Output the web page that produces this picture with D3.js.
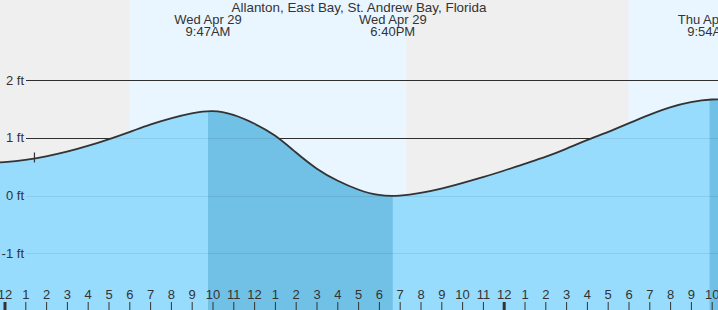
<!DOCTYPE html>
<html>
<head>
<meta charset="utf-8">
<script src="https://cdn.jsdelivr.net/npm/d3@7"></script>
<style>
  body { margin: 0; background: #fff; }
  svg { display: block; font-family: "Liberation Sans", Arial, sans-serif; }
</style>
</head>
<body>
<svg id="tide" width="718" height="310"></svg>
<script>
// hours since midnight Wed Apr 29, height in ft
const hours = [-1, 0, 1, 2, 3, 4, 5, 6, 7, 8, 9, 10, 11, 12, 13, 14, 15, 16, 17, 18,
  19, 20, 21, 22, 23, 24, 25, 26, 27, 28, 29, 30, 31, 32, 33, 34, 35];
const heights = [0.55, 0.58, 0.62, 0.68, 0.76, 0.86, 0.975, 1.10, 1.23, 1.34, 1.425, 1.465, 1.40, 1.25, 1.04,
  0.75, 0.47, 0.26, 0.105, 0.01, 0.0, 0.045, 0.12, 0.215, 0.32, 0.43, 0.55, 0.67, 0.81, 0.96, 1.10, 1.25,
  1.40, 1.53, 1.62, 1.665, 1.66];

// high / low tide labels
const extremeHours = [9.783, 18.667, 33.9];
const extremeDays = ["Wed Apr 29", "Wed Apr 29", "Thu Apr 30"];
const extremeTimes = ["9:47AM", "6:40PM", "9:54AM"];

// daylight spans (sunrise, sunset)
const dayStarts = [6.0, 30.0];
const dayEnds = [19.3, 40];

const yTicks = [-1, 0, 1, 2];
const hourTicks = d3.range(0, 35);
const nowHour = 1.44;

function createTideChart() {
  const svg = d3.select("#tide");
  const width = +svg.attr("width");
  const height = +svg.attr("height");

  const x = d3.scaleLinear().domain([0, 24]).range([4.5, 503.7]);
  const y = d3.scaleLinear().domain([-1, 2]).range([253.2, 80.2]);

  const data = hours.map((h, i) => ({ h: h, v: heights[i] }));

  // night background
  svg.append("rect")
    .attr("width", width)
    .attr("height", height)
    .attr("fill", "#efefef");

  // daylight
  svg.selectAll(".day")
    .data(dayStarts)
    .enter()
    .append("rect")
    .attr("class", "day")
    .attr("x", (d) => x(d))
    .attr("y", 0)
    .attr("width", (d, i) => x(dayEnds[i]) - x(d))
    .attr("height", height)
    .attr("fill", "#eaf6ff");

  // gridlines behind the water
  const grid = svg.append("g");
  grid.selectAll("line")
    .data(yTicks)
    .enter()
    .append("line")
    .attr("x1", 26)
    .attr("x2", width)
    .attr("y1", (d) => Math.round(y(d)) + 0.5)
    .attr("y2", (d) => Math.round(y(d)) + 0.5)
    .attr("stroke", "#333")
    .attr("stroke-width", 1);

  const area = d3.area()
    .x((d) => x(d.h))
    .y0(height)
    .y1((d) => y(d.v))
    .curve(d3.curveNatural);

  const line = d3.line()
    .x((d) => x(d.h))
    .y((d) => y(d.v))
    .curve(d3.curveNatural);

  svg.append("path")
    .datum(data)
    .attr("d", area)
    .attr("fill", "#97dcfd");

  // falling tide shaded darker
  const clip = svg.append("clipPath").attr("id", "falling");
  clip.append("rect")
    .attr("x", x(extremeHours[0]))
    .attr("y", 0)
    .attr("width", x(extremeHours[1]) - x(extremeHours[0]))
    .attr("height", height);
  clip.append("rect")
    .attr("x", x(extremeHours[2]))
    .attr("y", 0)
    .attr("width", width)
    .attr("height", height);

  svg.append("path")
    .datum(data)
    .attr("d", area)
    .attr("clip-path", "url(#falling)")
    .attr("fill", "#71c1e6");

  // faint gridlines inside the water
  svg.append("g")
    .selectAll("line")
    .data(yTicks)
    .enter()
    .append("line")
    .attr("x1", 26)
    .attr("x2", width)
    .attr("y1", (d) => Math.round(y(d)) + 0.5)
    .attr("y2", (d) => Math.round(y(d)) + 0.5)
    .attr("stroke", "#000")
    .attr("stroke-opacity", 0.08);

  svg.append("path")
    .datum(data)
    .attr("d", line)
    .attr("fill", "none")
    .attr("stroke", "#333")
    .attr("stroke-width", 1.8);

  // current time marker
  const nowY = y(0.66);
  svg.append("line")
    .attr("x1", x(nowHour))
    .attr("x2", x(nowHour))
    .attr("y1", nowY - 5)
    .attr("y2", nowY + 5)
    .attr("stroke", "#333")
    .attr("stroke-width", 1.2);

  // y labels
  svg.append("g")
    .selectAll("text")
    .data(yTicks)
    .enter()
    .append("text")
    .attr("x", 24)
    .attr("y", (d) => y(d) + 4.5)
    .attr("text-anchor", "end")
    .attr("font-size", 13)
    .attr("fill", "#333")
    .text((d) => d + " ft");

  // hour axis
  const axis = svg.append("g")
    .attr("transform", `translate(0, ${height})`)
    .call(d3.axisTop(x)
      .tickValues(hourTicks)
      .tickSize(8)
      .tickPadding(3)
      .tickFormat((d) => (d % 12 === 0 ? 12 : d % 12)));
  axis.select(".domain").remove();
  axis.selectAll("line")
    .attr("stroke", "#333")
    .attr("stroke-width", (d) => (d % 24 === 0 ? 3 : 1));
  axis.selectAll("text")
    .attr("font-size", 13)
    .attr("font-family", "Liberation Sans, Arial, sans-serif")
    .attr("fill", "#333");

  // title
  svg.append("text")
    .attr("x", 359)
    .attr("y", 12)
    .attr("text-anchor", "middle")
    .attr("font-size", 13.4)
    .attr("fill", "#333")
    .text("Allanton, East Bay, St. Andrew Bay, Florida");

  // extreme labels
  const ex = svg.append("g")
    .selectAll("g")
    .data(extremeHours)
    .enter()
    .append("g")
    .attr("transform", (d) => `translate(${x(d)}, 0)`);
  ex.append("text")
    .attr("y", 24)
    .attr("text-anchor", "middle")
    .attr("font-size", 13)
    .attr("fill", "#333")
    .text((d, i) => extremeDays[i]);
  ex.append("text")
    .attr("y", 36)
    .attr("text-anchor", "middle")
    .attr("font-size", 13)
    .attr("fill", "#333")
    .text((d, i) => extremeTimes[i]);
}

createTideChart();
</script>
</body>
</html>
